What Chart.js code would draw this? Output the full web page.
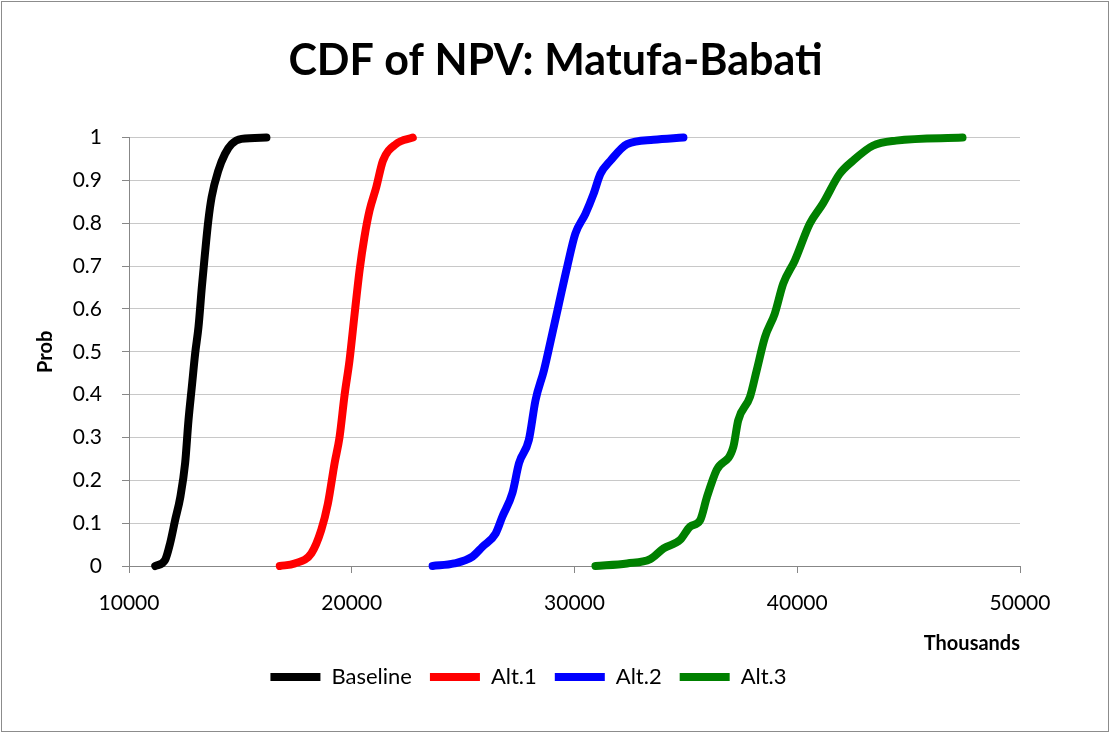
<!DOCTYPE html>
<html lang="en">
<head>
    <meta charset="UTF-8">
    <title>CDF of NPV: Matufa-Babati</title>
    <script src="https://cdn.jsdelivr.net/npm/chart.js@4.4.0/dist/chart.umd.min.js"></script>
    <style>
        * { margin: 0; padding: 0; box-sizing: border-box; }
        body { background: #fff; }
        .wrap { width: 1111px; height: 734px; position: relative; }
    </style>
</head>
<body>
    <div class="wrap">
        <canvas id="cdfChart" width="1111" height="734"></canvas>
    </div>

    <script>
        // NPV (thousands) and cumulative probability
        const baselineX = [11180, 11620, 11850, 12070, 12300, 12520, 12670, 12820, 12970, 13120, 13270, 13410, 13560, 13710, 14010, 14310, 14610, 15050, 16170];
        const baselineP = [0, 0.014, 0.054, 0.107, 0.16, 0.24, 0.34, 0.418, 0.496, 0.558, 0.651, 0.729, 0.806, 0.861, 0.923, 0.962, 0.985, 0.997, 1];

        const alt1X = [16770, 17440, 18190, 18630, 18930, 19230, 19450, 19680, 19900, 20130, 20350, 20570, 20800, 21100, 21400, 21990, 22740];
        const alt1P = [0, 0.006, 0.03, 0.084, 0.146, 0.24, 0.30, 0.40, 0.48, 0.589, 0.69, 0.768, 0.83, 0.884, 0.946, 0.985, 1];

        const alt2X = [23630, 24600, 25420, 25870, 26460, 26760, 27210, 27510, 27950, 28250, 28630, 29000, 29300, 29670, 30040, 30490, 30860, 31160, 31610, 32360, 33550, 34890];
        const alt2P = [0, 0.006, 0.022, 0.045, 0.076, 0.115, 0.17, 0.24, 0.294, 0.387, 0.457, 0.542, 0.612, 0.698, 0.776, 0.822, 0.869, 0.915, 0.946, 0.985, 0.995, 1];

        const alt3X = [30940, 32360, 33400, 34000, 34740, 35190, 35640, 35940, 36380, 37130, 37350, 37880, 38180, 38550, 38990, 39370, 39890, 40560, 41150, 41900, 42500, 43390, 44440, 47420];
        const alt3P = [0, 0.006, 0.016, 0.041, 0.061, 0.092, 0.107, 0.16, 0.224, 0.278, 0.34, 0.395, 0.457, 0.534, 0.589, 0.659, 0.713, 0.799, 0.846, 0.915, 0.946, 0.981, 0.993, 1];

        const seriesNames = ['Baseline', 'Alt.1', 'Alt.2', 'Alt.3'];
        const seriesColors = ['#000000', '#ff0000', '#0000ff', '#008000'];

        function toPoints(xs, ps) {
            return xs.map((x, i) => ({ x: x, y: ps[i] }));
        }

        const allSeries = [
            toPoints(baselineX, baselineP),
            toPoints(alt1X, alt1P),
            toPoints(alt2X, alt2P),
            toPoints(alt3X, alt3P)
        ];

        // white background + thin grey frame round the whole chart
        const frame = {
            id: 'frame',
            beforeDraw(chart) {
                const ctx = chart.ctx;
                ctx.save();
                ctx.fillStyle = '#fff';
                ctx.fillRect(0, 0, chart.width, chart.height);
                ctx.strokeStyle = '#8c8c8c';
                ctx.lineWidth = 1;
                ctx.strokeRect(1.5, 1.5, chart.width - 4, chart.height - 4);
                ctx.restore();
            }
        };

        // legend sits a bit left of the canvas centre in the original
        const legendNudge = {
            id: 'legendNudge',
            afterLayout(chart) {
                const lg = chart.legend;
                if (!lg) return;
                lg.left -= 27;
                lg.right -= 27;
            }
        };

        const font = "Lato, 'Open Sans', sans-serif";
        const gridColor = '#c8c8c8';
        const axisColor = '#878787';

        new Chart(document.getElementById('cdfChart'), {
            type: 'scatter',
            data: {
                datasets: allSeries.map((pts, i) => ({
                    label: seriesNames[i],
                    data: pts,
                    showLine: true,
                    borderColor: seriesColors[i],
                    backgroundColor: seriesColors[i],
                    borderWidth: 8,
                    borderCapStyle: 'round',
                    borderJoinStyle: 'round',
                    pointRadius: 0,
                    pointHoverRadius: 0,
                    cubicInterpolationMode: 'monotone',
                    clip: false
                }))
            },
            options: {
                responsive: false,
                animation: false,
                layout: { padding: { left: 0, right: 0, top: 0, bottom: 36 } },
                plugins: {
                    title: {
                        display: true,
                        text: 'CDF of NPV: Matufa-Babati',
                        color: '#000',
                        font: { family: font, size: 43, weight: 'bold' },
                        padding: { top: 35, bottom: 51 }
                    },
                    legend: {
                        position: 'bottom',
                        labels: {
                            color: '#000',
                            font: { family: font, size: 22 },
                            usePointStyle: true,
                            pointStyle: 'line',
                            pointStyleWidth: 50,
                            padding: 18
                        }
                    },
                    tooltip: { enabled: false }
                },
                scales: {
                    x: {
                        type: 'linear',
                        min: 10000,
                        max: 50000,
                        afterFit(scale) { scale.height = 82; },
                        ticks: {
                            stepSize: 10000,
                            color: '#000',
                            padding: 18,
                            font: { family: font, size: 21 },
                            callback: v => String(v)
                        },
                        grid: {
                            drawOnChartArea: false,
                            drawTicks: true,
                            tickLength: 7,
                            tickColor: axisColor
                        },
                        border: { color: axisColor },
                        title: {
                            display: true,
                            text: 'Thousands',
                            align: 'end',
                            color: '#000',
                            font: { family: font, size: 20, weight: 'bold' },
                            padding: { top: 0, bottom: -8 }
                        }
                    },
                    y: {
                        min: 0,
                        max: 1,
                        afterFit(scale) { scale.width = 129; },
                        ticks: {
                            stepSize: 0.1,
                            color: '#000',
                            padding: 20,
                            font: { family: font, size: 21 },
                            callback: v => String(+v.toFixed(1))
                        },
                        grid: {
                            color: gridColor,
                            tickLength: 7,
                            tickColor: axisColor
                        },
                        border: { color: axisColor },
                        title: {
                            display: true,
                            text: 'Prob',
                            color: '#000',
                            font: { family: font, size: 20, weight: 'bold' },
                            padding: { top: 34, bottom: 0 }
                        }
                    },
                    // empty axis on the right, only keeps the plot narrower like the original
                    yRight: {
                        position: 'right',
                        min: 0,
                        max: 1,
                        afterFit(scale) { scale.width = 91; },
                        ticks: { display: false },
                        grid: { display: false },
                        border: { display: false }
                    }
                }
            },
            plugins: [frame, legendNudge]
        });
    </script>
</body>
</html>
